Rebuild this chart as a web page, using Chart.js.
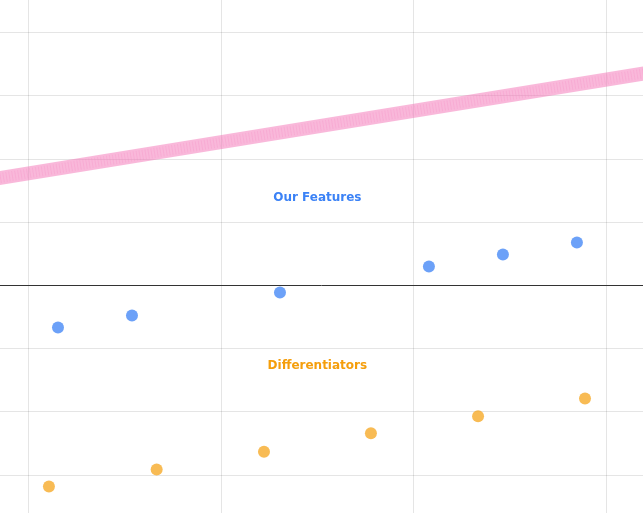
<!DOCTYPE html>
<html>
<head>
<meta charset="utf-8">
<script src="https://cdn.jsdelivr.net/npm/chart.js@4.4.1/dist/chart.umd.min.js"></script>
<style>
  html, body { margin: 0; padding: 0; background: #fff; overflow: hidden; width: 643px; height: 513px; }
  #wrap { position: absolute; left: -6px; top: -6px; width: 655px; height: 525px; }
</style>
</head>
<body>
<div id="wrap"><canvas id="c"></canvas></div>
<script>
// ---- data ----
const featureX = [0.154, 0.538, 1.306, 2.079, 2.463, 2.847];
const featureY = [-0.665, -0.475, -0.11, 0.30, 0.49, 0.68];
const diffX = [0.107, 0.666, 1.223, 1.778, 2.334, 2.889];
const diffY = [-3.18, -2.91, -2.63, -2.34, -2.07, -1.79];
const trendX = [-0.5, 3.5];
const trendY = [1.526, 3.507];
const xTicks = [0, 1, 2, 3];
const yTicks = [-3, -2, -1, 0, 1, 2, 3, 4];
const labels = [
  { text: 'Our Features', x: 1.5, y: 1.39, color: '#3b82f6' },
  { text: 'Differentiators', x: 1.5, y: -1.265, color: '#f59e0b' }
];

const zip = (xs, ys) => xs.map((x, i) => ({ x, y: ys[i] }));

const labelPlugin = {
  id: 'labelPlugin',
  afterDatasetsDraw(chart) {
    const { ctx, scales } = chart;
    ctx.save();
    ctx.font = 'bold 12px "DejaVu Sans"';
    ctx.textAlign = 'center';
    ctx.textBaseline = 'middle';
    labels.forEach(l => {
      ctx.fillStyle = l.color;
      ctx.fillText(l.text, scales.x.getPixelForValue(l.x), scales.y.getPixelForValue(l.y));
    });
    ctx.restore();
  }
};

new Chart(document.getElementById('c'), {
  type: 'scatter',
  data: {
    datasets: [
      {
        type: 'line',
        data: zip(trendX, trendY),
        borderColor: 'rgba(244,114,182,0.5)',
        borderWidth: 14,
        pointRadius: 0,
        fill: false,
        order: 3
      },
      {
        type: 'line',
        data: zip(trendX, trendY),
        borderColor: 'rgba(244,114,182,0.18)',
        borderWidth: 10,
        borderDash: [1, 2],
        pointRadius: 0,
        fill: false,
        order: 2
      },
      {
        data: zip(featureX, featureY),
        backgroundColor: 'rgba(59,130,246,0.75)',
        borderWidth: 0,
        pointRadius: 6,
        order: 1
      },
      {
        data: zip(diffX, diffY),
        backgroundColor: 'rgba(245,158,11,0.7)',
        borderWidth: 0,
        pointRadius: 6,
        order: 1
      }
    ]
  },
  options: {
    responsive: true,
    maintainAspectRatio: false,
    animation: false,
    layout: { padding: 0 },
    plugins: { legend: { display: false }, tooltip: { enabled: false } },
    scales: {
      x: {
        type: 'linear',
        min: -0.147,
        max: 3.190,
        afterBuildTicks: s => { s.ticks = xTicks.map(v => ({ value: v })); },
        ticks: { display: false },
        border: { display: false },
        grid: { drawTicks: false, tickLength: 0, color: 'rgba(0,0,0,0.1)' }
      },
      y: {
        type: 'linear',
        min: -3.600,
        max: 4.517,
        afterBuildTicks: s => { s.ticks = yTicks.map(v => ({ value: v })); },
        ticks: { display: false },
        border: { display: false },
        grid: {
          drawTicks: false,
          tickLength: 0,
          color: c => (c.tick && c.tick.value === 0) ? '#333333' : 'rgba(0,0,0,0.1)'
        }
      }
    }
  },
  plugins: [labelPlugin]
});
</script>
</body>
</html>
